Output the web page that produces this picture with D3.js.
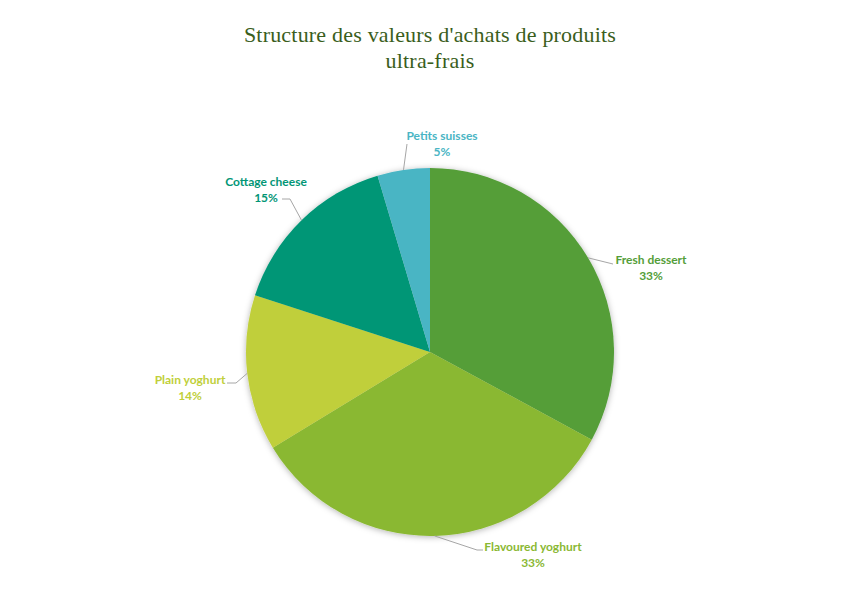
<!DOCTYPE html>
<html lang="fr">
<head>
<meta charset="UTF-8">
<title>Structure des valeurs d'achats de produits ultra-frais</title>
<script src="https://cdn.jsdelivr.net/npm/d3@7"></script>
<style>
  body { margin: 0; background: #fff; }
  .titre { font-family: "Liberation Serif", "DejaVu Serif", serif; font-size: 22px; letter-spacing: 0.2px; fill: #3a5e1c; }
  .etiq { font-family: Lato, "Open Sans", sans-serif; font-weight: bold; font-size: 12px; }
</style>
</head>
<body>
<div id="graphique"></div>
<script>
// donnees
categories = ['Fresh dessert', 'Flavoured yoghurt', 'Plain yoghurt', 'Cottage cheese', 'Petits suisses']
valeurs = [32.9, 33.4, 13.7, 15.4, 4.6]
couleurs = ['#549e39', '#8ab833', '#c0cf3a', '#029676', '#4ab5c4']
titre = ["Structure des valeurs d'achats de produits", 'ultra-frais']

// placement des etiquettes (centre du texte) et coude de la ligne de rappel
etiqX = [651, 533, 190, 266, 442]
etiqY = [260, 547, 380, 182, 136]
coudes = [[613, 264], [477, 550], [236, 383], [290, 199], [407, 144]]
finLigne = [[613, 264], [483, 550], [227, 383], [282, 199], [407, 144]]

ancho = 860
alto = 600
cx = 430
cy = 352
rayon = 184

svg = d3.select('#graphique')
  .append('svg')
  .attr('width', ancho)
  .attr('height', alto)

defs = svg.append('defs')
defs.append('filter')
  .attr('id', 'ombre')
  .attr('x', '-10%').attr('y', '-10%')
  .attr('width', '120%').attr('height', '120%')
  .append('feDropShadow')
  .attr('dx', 0).attr('dy', 1)
  .attr('stdDeviation', 3)
  .attr('flood-color', '#000')
  .attr('flood-opacity', 0.3)

svg.selectAll('text.titre').data(titre).enter()
  .append('text')
  .attr('class', 'titre')
  .attr('x', ancho / 2)
  .attr('y', function(d, i) { return 42 + i * 26 })
  .attr('text-anchor', 'middle')
  .text(function(d) { return d })

pie = d3.pie().sort(null).value(function(d) { return d })
arcs = pie(valeurs)
arc = d3.arc().innerRadius(0).outerRadius(rayon)

g = svg.append('g').attr('transform', 'translate(' + cx + ',' + cy + ')')

g.append('g')
  .attr('filter', 'url(#ombre)')
  .selectAll('path').data(arcs).enter()
  .append('path')
  .attr('d', arc)
  .attr('fill', function(d, i) { return couleurs[i] })

// lignes de rappel
function bord(d) {
  a = (d.startAngle + d.endAngle) / 2
  return [cx + rayon * Math.sin(a), cy - rayon * Math.cos(a)]
}
ligne = d3.line()
svg.selectAll('path.rappel').data(arcs).enter()
  .append('path')
  .attr('class', 'rappel')
  .attr('d', function(d, i) { return ligne([bord(d), coudes[i], finLigne[i]]) })
  .attr('fill', 'none')
  .attr('stroke', '#a6a6a6')
  .attr('stroke-width', 1)

total = d3.sum(valeurs)
etiq = svg.selectAll('text.etiq').data(arcs).enter()
  .append('text')
  .attr('class', 'etiq')
  .attr('text-anchor', 'middle')
  .attr('fill', function(d, i) { return couleurs[i] })
  .attr('transform', function(d, i) { return 'translate(' + etiqX[i] + ',' + etiqY[i] + ')' })
etiq.append('tspan')
  .attr('x', 0).attr('dy', '0.35em')
  .text(function(d, i) { return categories[i] })
etiq.append('tspan')
  .attr('x', 0).attr('dy', '1.3em')
  .text(function(d) { return Math.round(d.value / total * 100) + '%' })
</script>
</body>
</html>
